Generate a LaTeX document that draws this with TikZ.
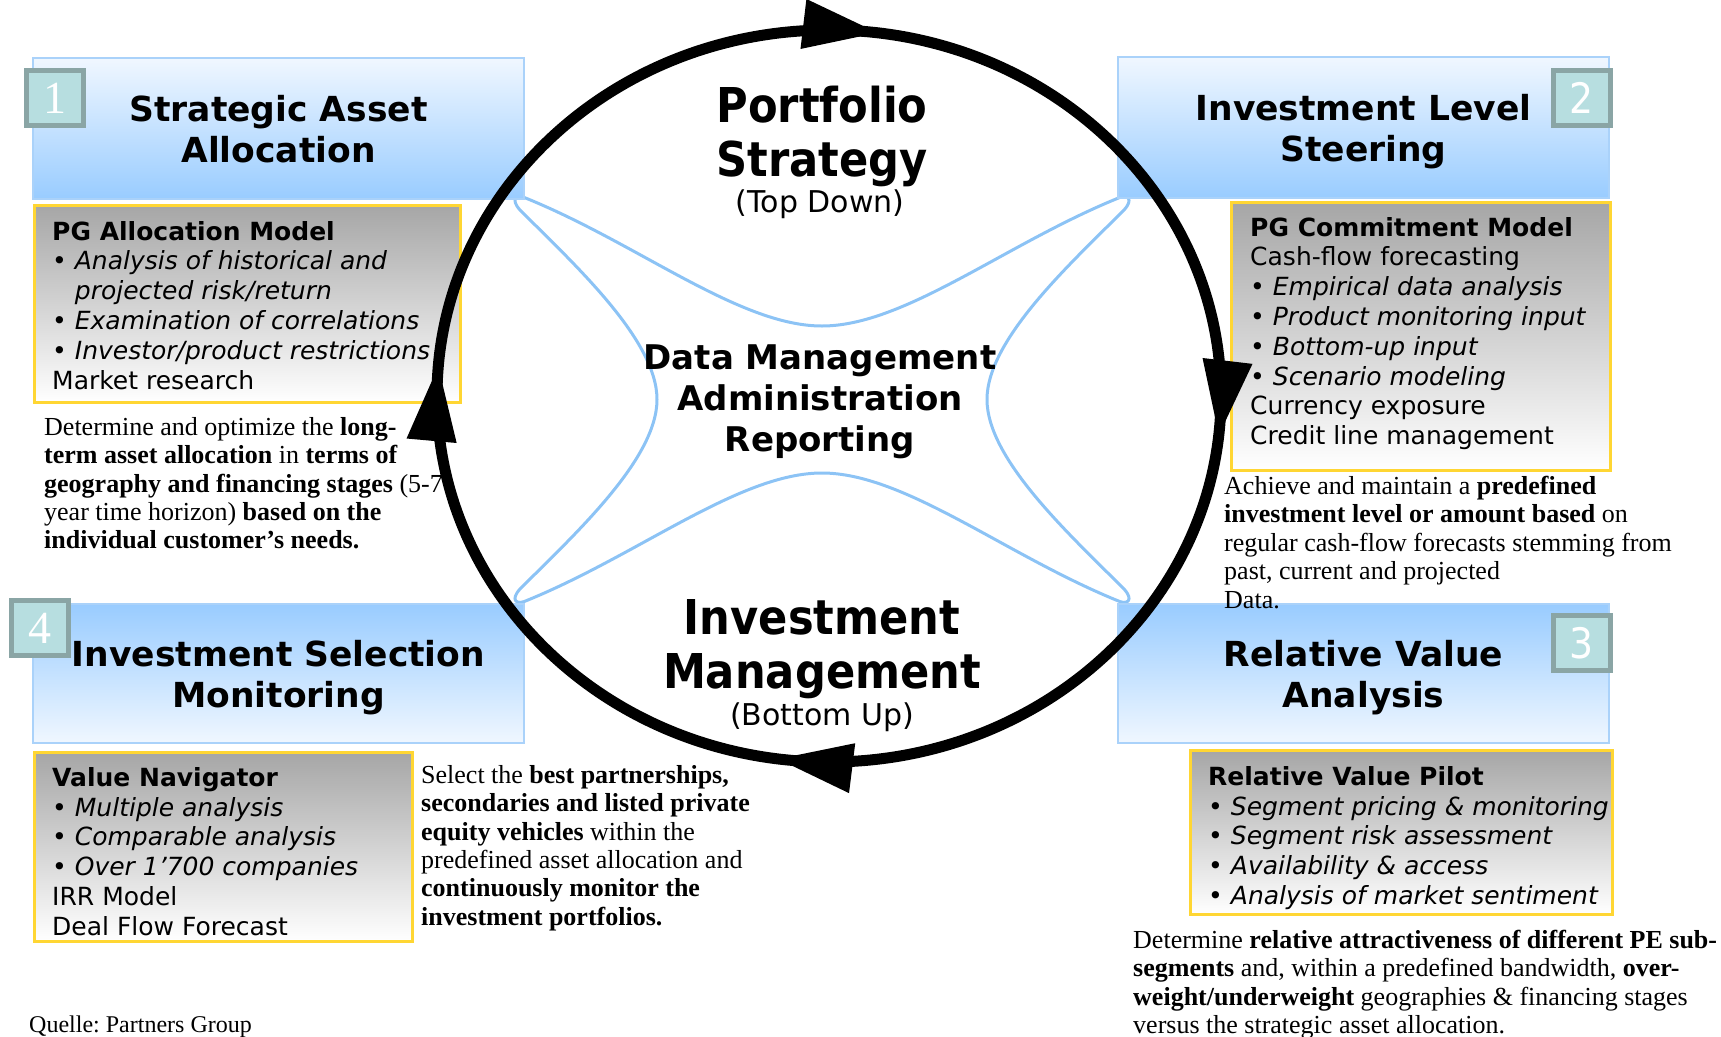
\documentclass[tikz,border=0pt]{standalone}
\usepackage{fontspec}
\setmainfont{Liberation Serif}
\setsansfont{DejaVu Sans}
\newfontfamily\narrowsans[FakeStretch=0.9]{DejaVu Sans}
\usetikzlibrary{arrows.meta,decorations.markings}
\frenchspacing

\definecolor{hdlight}{RGB}{240,247,255}
\definecolor{hdblue}{RGB}{153,204,255}
\definecolor{hdline}{RGB}{170,210,250}
\definecolor{boxgray}{RGB}{166,166,166}
\definecolor{boxline}{RGB}{255,214,51}
\definecolor{badgefill}{RGB}{183,222,224}
\definecolor{badgeline}{RGB}{138,165,165}
\definecolor{lobeline}{RGB}{140,195,245}

\newcommand\hdfont{\sffamily\bfseries\fontsize{34.5}{41}\selectfont}
\newcommand\itemfont{\sffamily\fontsize{25}{29.8}\selectfont}
\newcommand\dscfont{\rmfamily\fontsize{26}{28.4}\selectfont}
\newcommand\bigfont{\narrowsans\bfseries\fontsize{48}{54}\selectfont}
\newcommand\subfont{\sffamily\fontsize{30}{36}\selectfont}
\newcommand\midfont{\sffamily\bfseries\fontsize{34}{41}\selectfont}
\newcommand\badgeserif{\rmfamily\fontsize{46}{46}\selectfont}
\newcommand\badgesans{\narrowsans\fontsize{42}{42}\selectfont}

\tikzset{
  bigtip/.tip={Triangle[length=76pt,width=47pt]},
  headtop/.style={draw=hdline, line width=1.5pt, top color=hdlight, bottom color=hdblue,
    minimum width=491pt, minimum height=141pt, inner sep=0pt, align=center,
    text depth=0pt, font=\hdfont},
  headbot/.style={headtop, top color=hdblue, bottom color=hdlight, minimum height=139pt},
  graybox/.style={draw=boxline, line width=2.5pt, top color=boxgray, bottom color=white,
    anchor=north west, inner sep=0pt},
  itemtext/.style={anchor=north west, align=left, inner sep=0pt, font=\itemfont},
  desctext/.style={anchor=north west, align=left, inner sep=0pt, font=\dscfont},
  badge/.style={draw=badgeline, fill=badgefill, line width=5pt, minimum width=57pt,
    minimum height=55pt, inner sep=0pt, text=white, font=\badgeserif},
  lobe/.style={draw=lobeline, line width=3pt, line join=round},
  loopline/.style={line width=11pt, postaction={decorate}, decoration={markings,
    mark=at position 0.017 with {\arrow{bigtip}},
    mark=at position 0.272 with {\arrow{bigtip}},
    mark=at position 0.513 with {\arrow{bigtip}},
    mark=at position 0.771 with {\arrow{bigtip}}}}
}

\begin{document}
\begin{tikzpicture}[x=1pt, y=-1pt]
  \useasboundingbox (0,0) rectangle (1721,1036);

  \draw[lobe] (528,199) .. controls (640,245) and (740,326) .. (822,326)
    .. controls (904,326) and (1004,245) .. (1116,199)
    .. controls (1128,193) and (1134,199) .. (1124,210)
    .. controls (1069,265) and (987,340) .. (987,399.5)
    .. controls (987,459) and (1069,534) .. (1124,589)
    .. controls (1134,600) and (1128,606) .. (1116,600)
    .. controls (1004,554) and (904,473) .. (822,473)
    .. controls (740,473) and (640,554) .. (528,600)
    .. controls (516,606) and (510,600) .. (520,589)
    .. controls (575,534) and (657,459) .. (657,399.5)
    .. controls (657,340) and (575,265) .. (520,210)
    .. controls (510,199) and (516,193) .. (528,199) -- cycle;

  \node[headtop] (h1) at (278.5,128.5) {Strategic Asset\\Allocation};
  \node[headtop] (h2) at (1363.5,127.5) {Investment Level\\Steering};
  \node[headbot] (h3) at (1363.5,673.5) {Relative Value\\Analysis};
  \node[headbot] (h4) at (278.5,673.5) {Investment Selection\\Monitoring};

  \node[graybox, minimum width=426pt, minimum height=197pt] (g1) at (33,204) {};
  \node[graybox, minimum width=379pt, minimum height=268pt] (g2) at (1230,201) {};
  \node[graybox, minimum width=422pt, minimum height=164pt] (g3) at (1189,749) {};
  \node[graybox, minimum width=378pt, minimum height=189pt] (g4) at (33,751) {};

  \coordinate (hub) at (829,396);
  \draw[loopline] (hub) ellipse [x radius=392, y radius=366];

  \node[badge] (b1) at (55,98) {1};
  \node[badge, font=\badgesans] (b2) at (1582,98) {2};
  \node[badge, font=\badgesans] (b3) at (1582,643) {3};
  \node[badge] (b4) at (40,628) {4};

  \node[itemtext] (c1) at (52,221) {\textbf{PG Allocation Model}\\
    • \textit{Analysis of historical and}\\
    \hphantom{• }\textit{projected risk/return}\\
    • \textit{Examination of correlations}\\
    • \textit{Investor/product restrictions}\\
    Market research};
  \node[itemtext] (c2) at (1250,217) {\textbf{PG Commitment Model}\\
    Cash-flow forecasting\\
    • \textit{Empirical data analysis}\\
    • \textit{Product monitoring input}\\
    • \textit{Bottom-up input}\\
    • \textit{Scenario modeling}\\
    Currency exposure\\
    Credit line management};
  \node[itemtext] (c3) at (1208,766) {\textbf{Relative Value Pilot}\\
    • \textit{Segment pricing \& monitoring}\\
    • \textit{Segment risk assessment}\\
    • \textit{Availability \& access}\\
    • \textit{Analysis of market sentiment}};
  \node[itemtext] (c4) at (52,767) {\textbf{Value Navigator}\\
    • \textit{Multiple analysis}\\
    • \textit{Comparable analysis}\\
    • \textit{Over 1’700 companies}\\
    IRR Model\\
    Deal Flow Forecast};

  \node[desctext] (d1) at (44,417) {Determine and optimize the \textbf{long-}\\
    \textbf{term asset allocation} in \textbf{terms of}\\
    \textbf{geography and financing stages} (5-7\\
    year time horizon) \textbf{based on the}\\
    \textbf{individual customer’s needs.}};
  \node[desctext] (d2) at (1224,476) {Achieve and maintain a \textbf{predefined}\\
    \textbf{investment level or amount based} on\\
    regular cash-flow forecasts stemming from\\
    past, current and projected\\
    Data.};
  \node[desctext] (d3) at (1133,930) {Determine \textbf{relative attractiveness of different PE sub-}\\
    \textbf{segments} and, within a predefined bandwidth, \textbf{over-}\\
    \textbf{weight/underweight} geographies \& financing stages\\
    versus the strategic asset allocation.};
  \node[desctext] (d4) at (421,765) {Select the \textbf{best partnerships,}\\
    \textbf{secondaries and listed private}\\
    \textbf{equity vehicles} within the\\
    predefined asset allocation and\\
    \textbf{continuously monitor the}\\
    \textbf{investment portfolios.}};
  \node[desctext, font=\rmfamily\fontsize{24}{28}\selectfont] (src) at (29,1016) {Quelle: Partners Group};

  \node[anchor=north, align=center, inner sep=0pt, font=\bigfont] (ps) at (822,86) {Portfolio\\Strategy};
  \node[anchor=base, inner sep=0pt, font=\subfont] (td) at (820,212) {(Top Down)};
  \node[anchor=north, align=center, inner sep=0pt, font=\midfont] (dm) at (820,345) {Data Management\\Administration\\Reporting};
  \node[anchor=north, align=center, inner sep=0pt, font=\bigfont] (im) at (822,599) {Investment\\Management};
  \node[anchor=base, inner sep=0pt, font=\subfont] (bu) at (822,725) {(Bottom Up)};
\end{tikzpicture}
\end{document}
